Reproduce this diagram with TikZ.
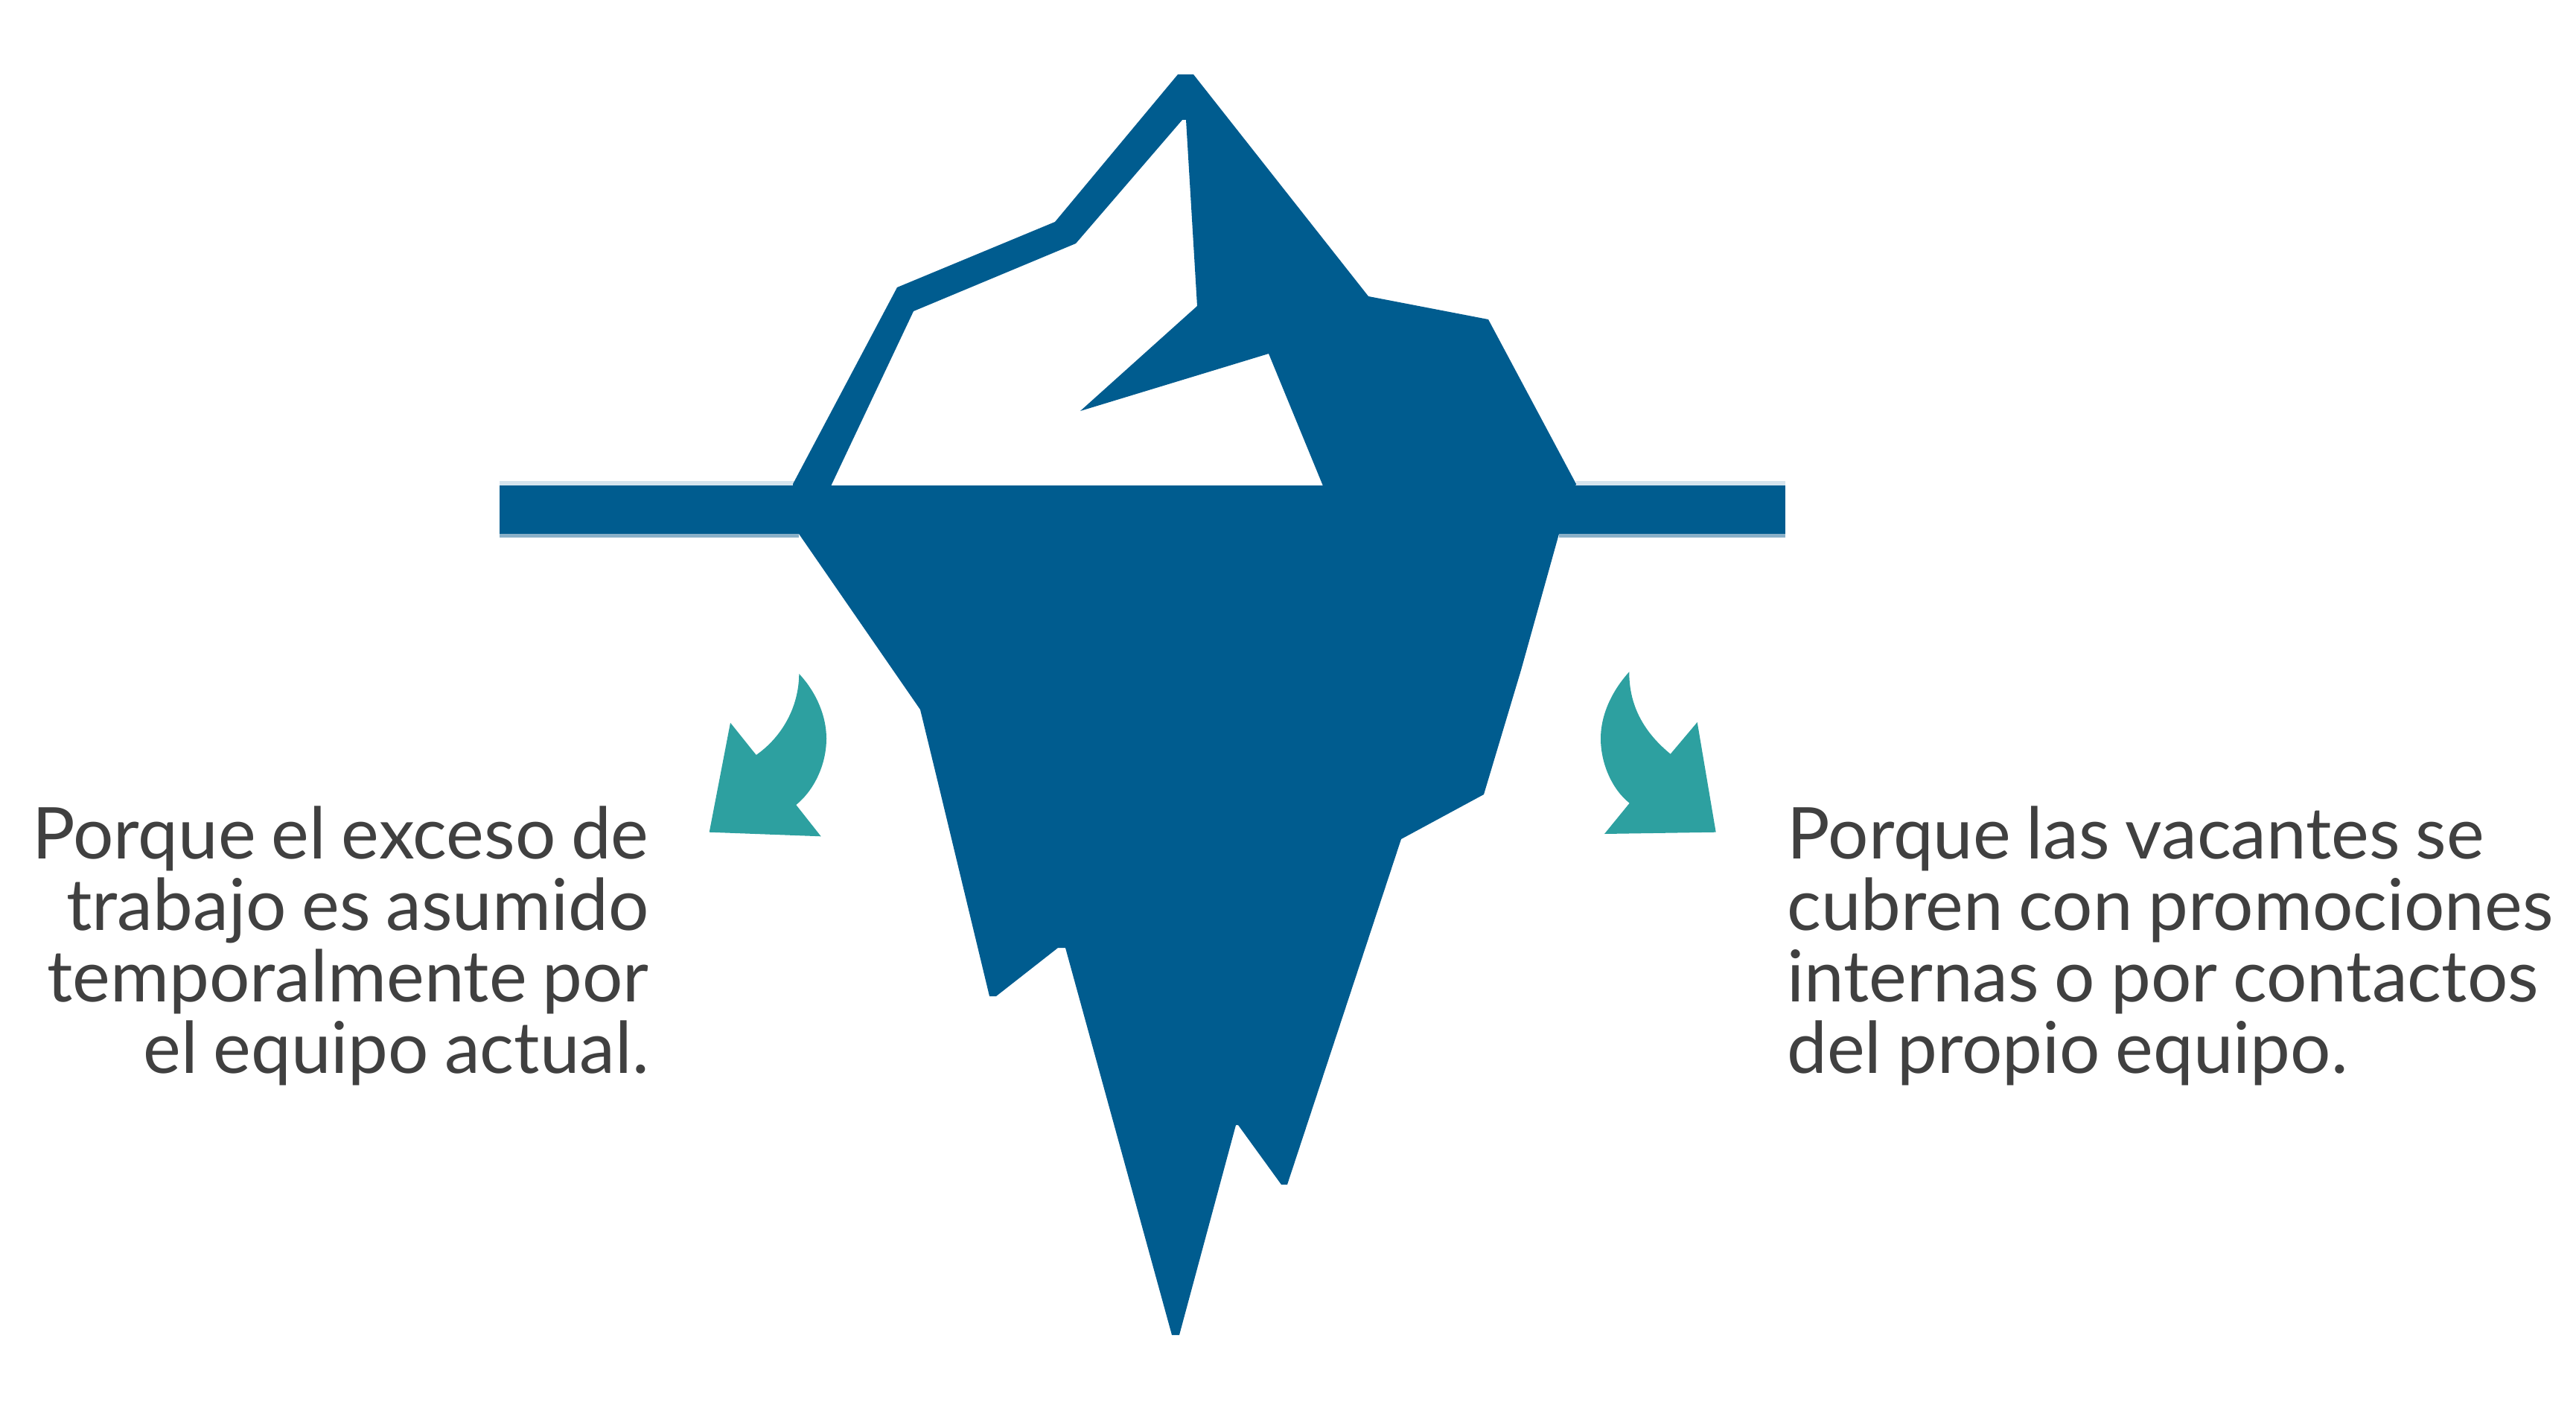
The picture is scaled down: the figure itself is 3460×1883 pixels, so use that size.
\documentclass[tikz,border=0pt]{standalone}
\usepackage{fontspec}
\setmainfont{Lato}[WordSpace=0.85]
\definecolor{iceblue}{HTML}{005C8F}
\definecolor{arrowteal}{HTML}{2DA0A0}
\definecolor{inktext}{HTML}{404040}
\definecolor{barlight}{HTML}{D5E4EE}
\definecolor{bardark}{HTML}{8AB0C8}
\tikzset{
  iceshape/.style={fill=iceblue,draw=none,even odd rule},
  turnarrow/.style={fill=arrowteal,draw=none},
  caption/.style={text=inktext,inner sep=0pt,font=\fontsize{48}{48.1}\selectfont}
}
\begin{document}
\begin{tikzpicture}[x=0.5pt,y=-0.5pt]
\useasboundingbox (0,0) rectangle (3460,1883);
% soft edges of the sea line
\fill[barlight] (671,646) rectangle (1067,652);
\fill[barlight] (2117,646) rectangle (2398,652);
\fill[bardark] (671,717) rectangle (1073,722);
\fill[bardark] (2094,717) rectangle (2398,722);
% sea line
\fill[iceblue] (671,652) rectangle (2398,717);
% iceberg with its white face
\path[iceshape]
  (1582,100) -- (1603,100) -- (1838,398) -- (1999,429) -- (2117,650) -- (2094,717)
  -- (2043,900) -- (1993,1067) -- (1882,1127) -- (1729,1591) -- (1721,1591)
  -- (1663,1511) -- (1660,1511) -- (1584,1793) -- (1574,1793) -- (1431,1273)
  -- (1421,1273) -- (1338,1338) -- (1329,1338) -- (1262,1060) -- (1236,953)
  -- (1073,717) -- (1065,650) -- (1205,386) -- (1417,298) -- cycle
  (1593,161) -- (1608,411) -- (1451,552) -- (1704,475) -- (1778,655) -- (1115,655)
  -- (1227,418) -- (1445,327) -- (1588,161) -- cycle;
% arrows
\path[turnarrow]
  (1073.3,905) .. controls (1073,950) and (1050,990) .. (1015.7,1014)
  -- (981,970.7) -- (952.7,1117.7) -- (1102.7,1123.3) -- (1069.3,1081)
  .. controls (1095,1060) and (1110,1025) .. (1110,992)
  .. controls (1110,960) and (1095,928) .. (1073.3,905) -- cycle;
\path[turnarrow]
  (2188.3,902.3) .. controls (2188,950) and (2210,985) .. (2243.7,1012.7)
  -- (2279.7,970) -- (2304.7,1117.7) -- (2155,1120) -- (2188.7,1078.7)
  .. controls (2165,1060) and (2150,1025) .. (2150,992)
  .. controls (2150,960) and (2165,928) .. (2188.3,902.3) -- cycle;
% captions
\node[caption,anchor=north east,align=right] (leftcap) at (872,1082)
  {Porque el exceso de\\trabajo es asumido\\temporalmente por\\el equipo actual.};
\node[caption,anchor=north west,align=left] (rightcap) at (2400,1082)
  {Porque las vacantes se\\cubren con promociones\\internas o por contactos\\del propio equipo.};
\end{tikzpicture}
\end{document}
